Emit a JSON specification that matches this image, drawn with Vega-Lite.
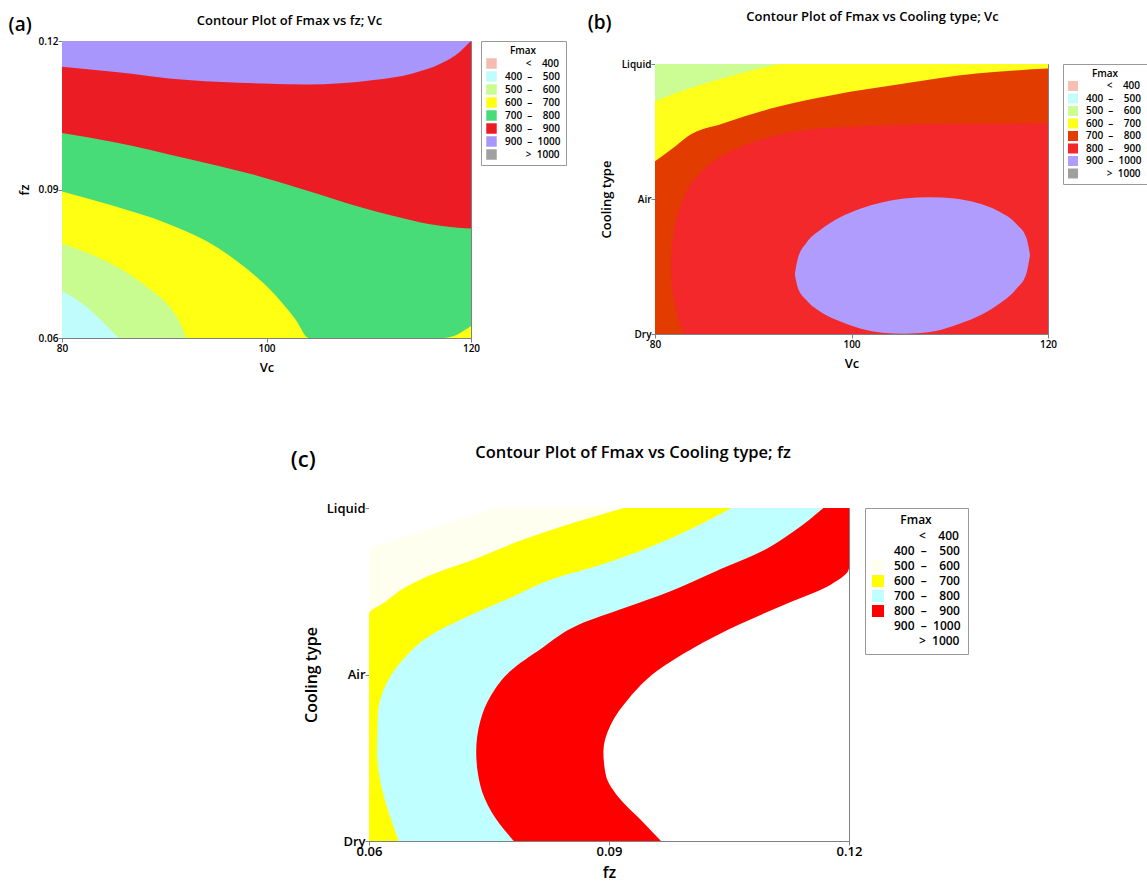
{
  "$schema": "https://vega.github.io/schema/vega-lite/v6.json",
  "padding": {"left": 8, "top": 10, "right": 0, "bottom": 0},
  "background": "white",
  "config": {
    "font": "Open Sans",
    "view": {"stroke": "#808080", "strokeWidth": 1},
    "axis": {"labelFlush": false, "domainColor": "#808080", "tickColor": "#808080", "tickSize": 4, "labelColor": "#000", "titleColor": "#000", "grid": false, "zindex": 1, "labelFontWeight": 600, "titleFontWeight": 600},
    "title": {"font": "Open Sans", "fontWeight": 600, "color": "#000"},
    "legend": {"titleAnchor": "middle", "titleFontWeight": 600, "labelFontWeight": 600, "symbolType": "square", "symbolStrokeWidth": 0, "strokeColor": "#999999", "fillColor": "white", "symbolOpacity": 1}
  },
  "datasets": {
    "a": [
      {"band": "900-1000", "x": 80, "y": 0.12}, {"band": "900-1000", "x": 120, "y": 0.12},
      {"band": "800-900", "x": 80, "y": 0.1148}, {"band": "800-900", "x": 85, "y": 0.1138}, {"band": "800-900", "x": 92.3, "y": 0.1121}, {"band": "800-900", "x": 99.6, "y": 0.1114}, {"band": "800-900", "x": 104, "y": 0.1112}, {"band": "800-900", "x": 110.5, "y": 0.1121}, {"band": "800-900", "x": 114.2, "y": 0.1134}, {"band": "800-900", "x": 117.1, "y": 0.1155}, {"band": "800-900", "x": 118.9, "y": 0.1178}, {"band": "800-900", "x": 119.5, "y": 0.119}, {"band": "800-900", "x": 120, "y": 0.12},
      {"band": "700-800", "x": 80, "y": 0.1014}, {"band": "700-800", "x": 85, "y": 0.0996}, {"band": "700-800", "x": 92.3, "y": 0.0962}, {"band": "700-800", "x": 99.6, "y": 0.0925}, {"band": "700-800", "x": 105.05, "y": 0.0891}, {"band": "700-800", "x": 108.7, "y": 0.0867}, {"band": "700-800", "x": 112.34, "y": 0.0847}, {"band": "700-800", "x": 115.99, "y": 0.083}, {"band": "700-800", "x": 120, "y": 0.0821},
      {"band": "600-700", "x": 80, "y": 0.0896}, {"band": "600-700", "x": 85, "y": 0.0867}, {"band": "600-700", "x": 90.46, "y": 0.083}, {"band": "600-700", "x": 94.11, "y": 0.0796}, {"band": "600-700", "x": 97.76, "y": 0.0745}, {"band": "600-700", "x": 100.67, "y": 0.0691}, {"band": "600-700", "x": 102.86, "y": 0.0637}, {"band": "600-700", "x": 104.14, "y": 0.06}, {"band": "600-700", "x": 117.45, "y": 0.06}, {"band": "600-700", "x": 120, "y": 0.0624},
      {"band": "500-600", "x": 80, "y": 0.0791}, {"band": "500-600", "x": 83.17, "y": 0.0766}, {"band": "500-600", "x": 86.09, "y": 0.0735}, {"band": "500-600", "x": 88.64, "y": 0.0698}, {"band": "500-600", "x": 90.46, "y": 0.0664}, {"band": "500-600", "x": 91.56, "y": 0.063}, {"band": "500-600", "x": 92.18, "y": 0.06},
      {"band": "400-500", "x": 80, "y": 0.0695}, {"band": "400-500", "x": 82.08, "y": 0.0668}, {"band": "400-500", "x": 83.9, "y": 0.0634}, {"band": "400-500", "x": 85.54, "y": 0.06}
    ],
    "b": [
      {"band": "500-600", "x": 80, "y": 2}, {"band": "500-600", "x": 120, "y": 2},
      {"band": "600-700", "x": 80, "y": 1.725}, {"band": "600-700", "x": 83.31, "y": 1.814}, {"band": "600-700", "x": 86.99, "y": 1.897}, {"band": "600-700", "x": 90.66, "y": 1.966}, {"band": "600-700", "x": 92.87, "y": 2}, {"band": "600-700", "x": 120, "y": 2},
      {"band": "700-800", "x": 80, "y": 1.279}, {"band": "700-800", "x": 81.84, "y": 1.377}, {"band": "700-800", "x": 83.31, "y": 1.463}, {"band": "700-800", "x": 86.99, "y": 1.561}, {"band": "700-800", "x": 92.5, "y": 1.683}, {"band": "700-800", "x": 98.01, "y": 1.769}, {"band": "700-800", "x": 105.37, "y": 1.855}, {"band": "700-800", "x": 112.72, "y": 1.929}, {"band": "700-800", "x": 120, "y": 1.966},
      {"band": "800-900", "y": 0, "x": 82.94}, {"band": "800-900", "y": 0.1252, "x": 82.28}, {"band": "800-900", "y": 0.2479, "x": 81.95}, {"band": "800-900", "y": 0.3706, "x": 81.69}, {"band": "800-900", "y": 0.4933, "x": 81.65}, {"band": "800-900", "y": 0.616, "x": 81.69}, {"band": "800-900", "y": 0.7387, "x": 81.88}, {"band": "800-900", "y": 0.8613, "x": 82.21}, {"band": "800-900", "y": 0.984, "x": 82.76}, {"band": "800-900", "y": 1.1067, "x": 83.6}, {"band": "800-900", "y": 1.1804, "x": 84.41}, {"band": "800-900", "y": 1.254, "x": 85.51}, {"band": "800-900", "y": 1.3276, "x": 86.99}, {"band": "800-900", "y": 1.389, "x": 88.82}, {"band": "800-900", "y": 1.438, "x": 90.66}, {"band": "800-900", "y": 1.4748, "x": 92.5}, {"band": "800-900", "y": 1.4994, "x": 94.34}, {"band": "800-900", "y": 1.519, "x": 96.18}, {"band": "800-900", "y": 1.5288, "x": 98.01}, {"band": "800-900", "y": 1.5387, "x": 100.96}, {"band": "800-900", "y": 1.546, "x": 103.53}, {"band": "800-900", "y": 1.5534, "x": 107.21}, {"band": "800-900", "y": 1.5583, "x": 110.88}, {"band": "800-900", "y": 1.5632, "x": 120},
      {"band": "900-1000", "x": 94.23, "y": 0.4442, "lo": 0.4442}, {"band": "900-1000", "x": 94.52, "y": 0.5546, "lo": 0.346}, {"band": "900-1000", "x": 95.44, "y": 0.6773, "lo": 0.2479}, {"band": "900-1000", "x": 96.91, "y": 0.7755, "lo": 0.162}, {"band": "900-1000", "x": 98.75, "y": 0.8613, "lo": 0.0957}, {"band": "900-1000", "x": 100.96, "y": 0.9301, "lo": 0.0393}, {"band": "900-1000", "x": 103.16, "y": 0.9767, "lo": 0.0098}, {"band": "900-1000", "x": 105.37, "y": 1.0037, "lo": 0.0025}, {"band": "900-1000", "x": 107.94, "y": 1.0135, "lo": 0.0147}, {"band": "900-1000", "x": 110.51, "y": 1.0037, "lo": 0.0638}, {"band": "900-1000", "x": 112.72, "y": 0.9718, "lo": 0.1252}, {"band": "900-1000", "x": 114.93, "y": 0.9104, "lo": 0.2184}, {"band": "900-1000", "x": 116.76, "y": 0.8172, "lo": 0.3337}, {"band": "900-1000", "x": 117.79, "y": 0.7141, "lo": 0.4442}, {"band": "900-1000", "x": 118.16, "y": 0.5914, "lo": 0.5791}
    ],
    "c": [
      {"band": "900-1000", "y": 0, "x": 0.12}, {"band": "900-1000", "y": 2, "x": 0.12},
      {"band": "800-900", "y": 0, "x": 0.0965}, {"band": "800-900", "y": 0.1162, "x": 0.0942}, {"band": "800-900", "y": 0.2565, "x": 0.0913}, {"band": "800-900", "y": 0.3968, "x": 0.0896}, {"band": "800-900", "y": 0.5371, "x": 0.0893}, {"band": "800-900", "y": 0.6974, "x": 0.0902}, {"band": "800-900", "y": 0.8577, "x": 0.0925}, {"band": "800-900", "y": 1.018, "x": 0.0959}, {"band": "800-900", "y": 1.1583, "x": 0.1005}, {"band": "800-900", "y": 1.2986, "x": 0.1062}, {"band": "800-900", "y": 1.4188, "x": 0.1119}, {"band": "800-900", "y": 1.5391, "x": 0.1177}, {"band": "800-900", "y": 1.6393, "x": 0.12}, {"band": "800-900", "y": 2, "x": 0.12},
      {"band": "700-800", "y": 0, "x": 0.0781}, {"band": "700-800", "y": 0.1764, "x": 0.0753}, {"band": "700-800", "y": 0.3367, "x": 0.0739}, {"band": "700-800", "y": 0.5371, "x": 0.0734}, {"band": "700-800", "y": 0.7174, "x": 0.0739}, {"band": "700-800", "y": 0.8778, "x": 0.0753}, {"band": "700-800", "y": 1.018, "x": 0.0776}, {"band": "700-800", "y": 1.1583, "x": 0.0816}, {"band": "700-800", "y": 1.2986, "x": 0.0862}, {"band": "700-800", "y": 1.3988, "x": 0.0919}, {"band": "700-800", "y": 1.499, "x": 0.0976}, {"band": "700-800", "y": 1.6192, "x": 0.1033}, {"band": "700-800", "y": 1.7395, "x": 0.1091}, {"band": "700-800", "y": 1.8597, "x": 0.1131}, {"band": "700-800", "y": 2, "x": 0.1168},
      {"band": "600-700", "y": 0, "x": 0.0637}, {"band": "600-700", "y": 0.1363, "x": 0.0627}, {"band": "600-700", "y": 0.3367, "x": 0.0615}, {"band": "600-700", "y": 0.5371, "x": 0.061}, {"band": "600-700", "y": 0.7575, "x": 0.0611}, {"band": "600-700", "y": 0.9379, "x": 0.0621}, {"band": "600-700", "y": 1.0982, "x": 0.0644}, {"band": "600-700", "y": 1.2385, "x": 0.0678}, {"band": "600-700", "y": 1.3387, "x": 0.0719}, {"band": "600-700", "y": 1.4589, "x": 0.0776}, {"band": "600-700", "y": 1.5792, "x": 0.0833}, {"band": "600-700", "y": 1.6593, "x": 0.089}, {"band": "600-700", "y": 1.7595, "x": 0.0948}, {"band": "600-700", "y": 1.8798, "x": 0.1005}, {"band": "600-700", "y": 2, "x": 0.1053},
      {"band": "500-600", "y": 0, "x": 0.06}, {"band": "500-600", "y": 1.3627, "x": 0.06}, {"band": "500-600", "y": 1.4389, "x": 0.0621}, {"band": "500-600", "y": 1.519, "x": 0.0644}, {"band": "500-600", "y": 1.5992, "x": 0.0678}, {"band": "500-600", "y": 1.6894, "x": 0.073}, {"band": "500-600", "y": 1.7996, "x": 0.0787}, {"band": "500-600", "y": 1.9198, "x": 0.0862}, {"band": "500-600", "y": 2, "x": 0.0919},
      {"band": "400-500", "y": 1.7616, "x": 0.06}, {"band": "400-500", "y": 2, "x": 0.0758}
    ]
  },
  "spacing": 69,
  "resolve": {"scale": {"color": "independent"}, "legend": {"color": "independent"}},
  "vconcat": [
    {
      "hconcat": [
        {
          "title": {"text": "(a)", "anchor": "start", "fontSize": 19, "offset": -20, "dx": -9},
          "resolve": {"scale": {"color": "independent"}, "legend": {"color": "independent"}},
          "hconcat": [
            {
              "title": {"text": "Contour Plot of Fmax vs fz; Vc", "fontSize": 13, "offset": 8, "anchor": "middle", "frame": "group", "dx": 23},
              "width": 409,
              "height": 297,
              "data": {"name": "a"},
              "encoding": {
                "x": {"field": "x", "type": "quantitative", "scale": {"domain": [80, 120], "nice": false, "zero": false}, "axis": {"values": [80, 100, 120], "title": "Vc", "labelFontSize": 10, "titleFontSize": 13, "titlePadding": 8, "labelPadding": 1}},
                "y": {"field": "y", "type": "quantitative", "scale": {"domain": [0.06, 0.12], "nice": false, "zero": false}, "axis": {"values": [0.06, 0.09, 0.12], "format": ".2f", "title": "fz", "labelFontSize": 10, "titleFontSize": 13, "titlePadding": 7, "labelPadding": 0}},
                "y2": {"datum": 0.06},
                "color": {"field": "band", "type": "nominal",
                  "scale": {"domain": ["<400", "400-500", "500-600", "600-700", "700-800", "800-900", "900-1000", ">1000"], "range": ["#f4bcb0", "#c0fcfc", "#c8fc90", "#ffff14", "#48dc78", "#ec1c24", "#a896fc", "#a0a0a0"]},
                  "legend": {"title": "Fmax", "titleFontSize": 10, "labelFontSize": 10, "symbolSize": 110, "padding": 5, "offset": 10, "rowPadding": 2, "titlePadding": 2, "labelOffset": 8,
                    "labelExpr": "replace(replace(replace(replace(datum.label,'-1000','\u00a0\u00a0–\u00a0\u00a01000'),'-','\u00a0\u00a0–\u00a0\u00a0\u00a0\u00a0'),'<','\u200b\u00a0\u00a0\u00a0\u00a0\u00a0\u00a0\u00a0\u00a0<\u00a0\u00a0\u00a0\u00a0'),'>','\u200b\u00a0\u00a0\u00a0\u00a0\u00a0\u00a0\u00a0\u00a0>\u00a0\u00a0')"}}
              },
              "layer": [
                {"transform": [{"filter": "datum.band == '900-1000'"}], "mark": {"type": "area", "interpolate": "monotone", "opacity": 1}},
                {"transform": [{"filter": "datum.band == '800-900'"}], "mark": {"type": "area", "interpolate": "monotone", "opacity": 1}},
                {"transform": [{"filter": "datum.band == '700-800'"}], "mark": {"type": "area", "interpolate": "monotone", "opacity": 1}},
                {"transform": [{"filter": "datum.band == '600-700'"}], "mark": {"type": "area", "interpolate": "monotone", "opacity": 1}},
                {"transform": [{"filter": "datum.band == '500-600'"}], "mark": {"type": "area", "interpolate": "monotone", "opacity": 1}},
                {"transform": [{"filter": "datum.band == '400-500'"}], "mark": {"type": "area", "interpolate": "monotone", "opacity": 1}}
              ]
            }
          ]
        },
        {
          "title": {"text": "(b)", "anchor": "start", "fontSize": 19, "offset": -22, "dx": -12},
          "resolve": {"scale": {"color": "independent"}, "legend": {"color": "independent"}},
          "hconcat": [
            {
              "spacing": 11,
              "resolve": {"scale": {"color": "independent"}, "legend": {"color": "independent"}},
              "vconcat": [
                {"title": {"text": "Contour Plot of Fmax vs Cooling type; Vc", "fontSize": 13, "offset": 12, "anchor": "middle", "frame": "group", "dx": 21},
                 "data": {"values": [{}]}, "mark": {"type": "text", "text": ""}, "width": 393, "height": 1, "view": {"stroke": null}},
                {
                  "width": 393,
                  "height": 270,
                  "data": {"name": "b"},
                  "encoding": {
                    "x": {"field": "x", "type": "quantitative", "scale": {"domain": [80, 120], "nice": false, "zero": false}, "axis": {"values": [80, 100, 120], "title": "Vc", "labelFontSize": 10, "titleFontSize": 13, "titlePadding": 8, "labelPadding": 1}},
                    "y": {"field": "y", "type": "quantitative", "scale": {"domain": [0, 2], "nice": false, "zero": false}, "axis": {"values": [0, 1, 2], "labelExpr": "datum.value == 0 ? 'Dry' : datum.value == 1 ? 'Air' : 'Liquid'", "title": "Cooling type", "labelFontSize": 10, "titleFontSize": 13, "titlePadding": 8, "labelPadding": 0}},
                    "color": {"field": "band", "type": "nominal",
                      "scale": {"domain": ["<400", "400-500", "500-600", "600-700", "700-800", "800-900", "900-1000", ">1000"], "range": ["#f8c0b4", "#c4fcfc", "#ccfc94", "#ffff1c", "#e33c00", "#f2282a", "#b09cfc", "#a0a0a0"]},
                      "legend": {"title": "Fmax", "titleFontSize": 10, "labelFontSize": 10, "symbolSize": 100, "padding": 5, "offset": 15, "rowPadding": 2.5, "titlePadding": 2, "labelOffset": 8,
                        "labelExpr": "replace(replace(replace(replace(datum.label,'-1000','\u00a0\u00a0–\u00a0\u00a01000'),'-','\u00a0\u00a0–\u00a0\u00a0\u00a0\u00a0'),'<','\u200b\u00a0\u00a0\u00a0\u00a0\u00a0\u00a0\u00a0\u00a0<\u00a0\u00a0\u00a0\u00a0'),'>','\u200b\u00a0\u00a0\u00a0\u00a0\u00a0\u00a0\u00a0\u00a0>\u00a0\u00a0')"}}
                  },
                  "layer": [
                    {"transform": [{"filter": "datum.band == '500-600'"}], "mark": {"type": "area", "interpolate": "monotone", "opacity": 1}, "encoding": {"y2": {"datum": 0}}},
                    {"transform": [{"filter": "datum.band == '600-700'"}], "mark": {"type": "area", "interpolate": "monotone", "opacity": 1}, "encoding": {"y2": {"datum": 0}}},
                    {"transform": [{"filter": "datum.band == '700-800'"}], "mark": {"type": "area", "interpolate": "monotone", "opacity": 1}, "encoding": {"y2": {"datum": 0}}},
                    {"transform": [{"filter": "datum.band == '800-900'"}], "mark": {"type": "area", "orient": "horizontal", "interpolate": "monotone", "opacity": 1}, "encoding": {"x2": {"datum": 120}}},
                    {"transform": [{"filter": "datum.band == '900-1000'"}], "mark": {"type": "area", "interpolate": "monotone", "opacity": 1}, "encoding": {"y2": {"field": "lo"}}}
                  ]
                }
              ]
            }
          ]
        }
      ],
      "spacing": 20,
      "resolve": {"scale": {"color": "independent"}, "legend": {"color": "independent"}}
    },
    {
      "hconcat": [
        {"data": {"values": [{}]}, "mark": {"type": "text", "text": ""}, "width": 228, "height": 10, "view": {"stroke": null}},
        {
          "title": {"text": "(c)", "anchor": "start", "fontSize": 22, "offset": -28, "dx": -12},
          "resolve": {"scale": {"color": "independent"}, "legend": {"color": "independent"}},
          "hconcat": [
            {
              "title": {"text": "Contour Plot of Fmax vs Cooling type; fz", "fontSize": 16.5, "offset": 41, "anchor": "middle", "frame": "group", "dx": 24},
              "width": 480,
              "height": 333,
              "data": {"name": "c"},
              "encoding": {
                "x": {"field": "x", "type": "quantitative", "scale": {"domain": [0.06, 0.12], "nice": false, "zero": false}, "axis": {"values": [0.06, 0.09, 0.12], "format": ".2f", "title": "fz", "labelFontSize": 13, "titleFontSize": 16, "titlePadding": 6, "labelPadding": 0}},
                "y": {"field": "y", "type": "quantitative", "scale": {"domain": [0, 2], "nice": false, "zero": false}, "axis": {"values": [0, 1, 2], "labelExpr": "datum.value == 0 ? 'Dry' : datum.value == 1 ? 'Air' : 'Liquid'", "title": "Cooling type", "labelFontSize": 13, "titleFontSize": 16, "titlePadding": 7, "labelPadding": 0}},
                "x2": {"datum": 0.06},
                "color": {"field": "band", "type": "nominal",
                  "scale": {"domain": ["<400", "400-500", "500-600", "600-700", "700-800", "800-900", "900-1000", ">1000"], "range": ["#ffffff", "#ffffff", "#fffff0", "#ffff00", "#c0ffff", "#ff0000", "#ffffff", "#ffffff"]},
                  "legend": {"title": "Fmax", "titleFontSize": 12, "labelFontSize": 12, "symbolSize": 144, "padding": 7, "offset": 16, "rowPadding": 3, "titlePadding": 3, "labelOffset": 10,
                    "labelExpr": "replace(replace(replace(replace(datum.label,'-1000','\u00a0\u00a0–\u00a0\u00a01000'),'-','\u00a0\u00a0–\u00a0\u00a0\u00a0\u00a0'),'<','\u200b\u00a0\u00a0\u00a0\u00a0\u00a0\u00a0\u00a0\u00a0<\u00a0\u00a0\u00a0\u00a0'),'>','\u200b\u00a0\u00a0\u00a0\u00a0\u00a0\u00a0\u00a0\u00a0>\u00a0\u00a0')"}}
              },
              "layer": [
                {"transform": [{"filter": "datum.band == '900-1000'"}], "mark": {"type": "area", "orient": "horizontal", "interpolate": "monotone", "opacity": 1}},
                {"transform": [{"filter": "datum.band == '800-900'"}], "mark": {"type": "area", "orient": "horizontal", "interpolate": "monotone", "opacity": 1}},
                {"transform": [{"filter": "datum.band == '700-800'"}], "mark": {"type": "area", "orient": "horizontal", "interpolate": "monotone", "opacity": 1}},
                {"transform": [{"filter": "datum.band == '600-700'"}], "mark": {"type": "area", "orient": "horizontal", "interpolate": "monotone", "opacity": 1}},
                {"transform": [{"filter": "datum.band == '500-600'"}], "mark": {"type": "area", "orient": "horizontal", "interpolate": "monotone", "opacity": 1}},
                {"transform": [{"filter": "datum.band == '400-500'"}], "mark": {"type": "area", "orient": "horizontal", "interpolate": "monotone", "opacity": 1}}
              ]
            }
          ]
        }
      ],
      "spacing": 0,
      "resolve": {"scale": {"color": "independent"}, "legend": {"color": "independent"}}
    }
  ]
}
